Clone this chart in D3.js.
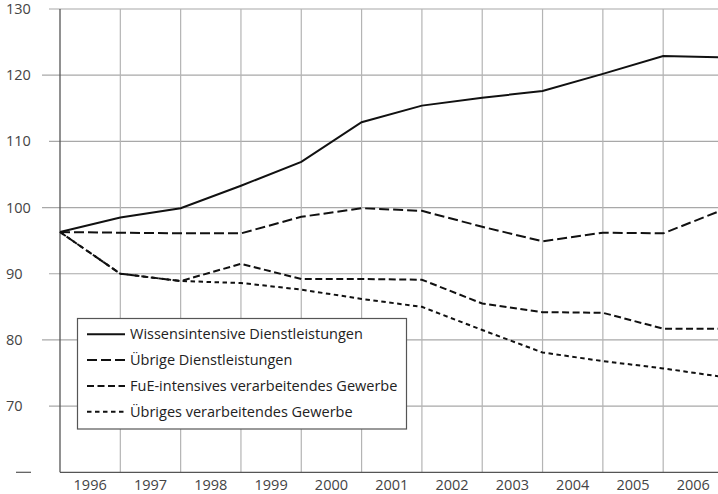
<!DOCTYPE html>
<html>
<head>
<meta charset="utf-8">
<script src="https://cdn.jsdelivr.net/npm/d3@7"></script>
<style>
	body { margin: 0; background: #fff; }
	text { font-family: "Open Sans", "DejaVu Sans", sans-serif; }
</style>
</head>
<body>
<div id="chart"></div>
<script>
// year labels sit between the gridlines, values sit on the gridlines
var years = ["1996", "1997", "1998", "1999", "2000", "2001", "2002", "2003", "2004", "2005", "2006"];
var yTicks = [130, 120, 110, 100, 90, 80, 70];

var wissensDL = [96.3, 98.5, 99.9, 103.3, 106.9, 112.9, 115.4, 116.6, 117.6, 120.2, 122.9, 122.7];
var uebrigeDL = [96.3, 96.2, 96.1, 96.1, 98.6, 99.9, 99.5, 97.1, 94.9, 96.2, 96.1, 99.7];
var fueVG = [96.3, 90.0, 88.9, 91.5, 89.2, 89.2, 89.1, 85.5, 84.2, 84.1, 81.7, 81.7];
var uebrigesVG = [96.3, 90.0, 88.9, 88.6, 87.6, 86.2, 85.0, 81.5, 78.1, 76.8, 75.7, 74.4];

var seriesNames = ["Wissensintensive Dienstleistungen", "Übrige Dienstleistungen",
	"FuE-intensives verarbeitendes Gewerbe", "Übriges verarbeitendes Gewerbe"];
var seriesData = [wissensDL, uebrigeDL, fueVG, uebrigesVG];
var dashes = ["none", "10,4", "7,3.5", "4.5,3.5"];

var width = 718, height = 494;
// note: "top" is taken by window.top, so plotTop etc.
var plotLeft = 60, plotTop = 9, plotBottom = 472.3;

var svg = d3.select("#chart")
	.append("svg")
	.attr("width", width)
	.attr("height", height);

// index of point -> x (the last point falls just outside the picture)
var x = d3.scaleLinear().domain([0, 11]).range([plotLeft, 723.5]);
var y = d3.scaleLinear().domain([60, 130]).range([plotBottom, plotTop]);

// horizontal gridlines + ticks left of the axis (alternating lengths)
svg.selectAll(".hgrid")
	.data(yTicks)
	.enter()
	.append("line")
	.attr("x1", function(d, i){ return i % 2 == 1 ? 42 : 49 })
	.attr("x2", width)
	.attr("y1", function(d){ return y(d) })
	.attr("y2", function(d){ return y(d) })
	.attr("stroke", "#a8a8a8")
	.attr("stroke-width", 1.2);

// lonely dash where the 60 label would be
svg.append("line")
	.attr("x1", 16).attr("x2", 31)
	.attr("y1", y(60)).attr("y2", y(60))
	.attr("stroke", "#555")
	.attr("stroke-width", 1.2);

// vertical gridlines
svg.selectAll(".vgrid")
	.data(d3.range(1, 11))
	.enter()
	.append("line")
	.attr("x1", function(d){ return x(d) })
	.attr("x2", function(d){ return x(d) })
	.attr("y1", plotTop)
	.attr("y2", plotBottom)
	.attr("stroke", "#b4b4b4")
	.attr("stroke-width", 1.2);

// axes
svg.append("line")
	.attr("x1", plotLeft).attr("x2", plotLeft)
	.attr("y1", plotTop).attr("y2", plotBottom)
	.attr("stroke", "#555").attr("stroke-width", 1.3);
svg.append("line")
	.attr("x1", plotLeft).attr("x2", width)
	.attr("y1", plotBottom).attr("y2", plotBottom)
	.attr("stroke", "#555").attr("stroke-width", 1.3);

// y labels
svg.selectAll(".ylab")
	.data(yTicks)
	.enter()
	.append("text")
	.attr("x", 6)
	.attr("y", function(d){ return y(d) + 5 })
	.style("font-size", "14.5px")
	.style("fill", "#444")
	.text(function(d){ return d });

// x labels
svg.selectAll(".xlab")
	.data(years)
	.enter()
	.append("text")
	.attr("x", function(d, i){ return x(i + 0.5) })
	.attr("y", 489.5)
	.attr("text-anchor", "middle")
	.style("font-size", "14.5px")
	.style("fill", "#444")
	.text(function(d){ return d });

// series lines
var line = d3.line()
	.x(function(d, i){ return x(i) })
	.y(function(d){ return y(d) });

svg.selectAll(".series")
	.data(seriesData)
	.enter()
	.append("path")
	.attr("d", function(d){ return line(d) })
	.attr("fill", "none")
	.attr("stroke", "#111")
	.attr("stroke-width", 2)
	.attr("stroke-dasharray", function(d, i){ return dashes[i] });

// legend
var legend = svg.append("g");
legend.append("rect")
	.attr("x", 77.5).attr("y", 318.5)
	.attr("width", 329).attr("height", 110.5)
	.attr("fill", "#fff")
	.attr("stroke", "#555")
	.attr("stroke-width", 1.2);

var rows = legend.selectAll(".row")
	.data(seriesNames)
	.enter()
	.append("g")
	.attr("transform", function(d, i){ return "translate(0," + (334.3 + i * 25.8) + ")" });

rows.append("line")
	.attr("x1", 87).attr("x2", 125)
	.attr("y1", 0).attr("y2", 0)
	.attr("stroke", "#111")
	.attr("stroke-width", 2)
	.attr("stroke-dasharray", function(d, i){ return dashes[i] });

rows.append("text")
	.attr("x", 130)
	.attr("y", 5)
	.style("font-size", "14.5px")
	.style("fill", "#222")
	.text(function(d){ return d });
</script>
</body>
</html>
